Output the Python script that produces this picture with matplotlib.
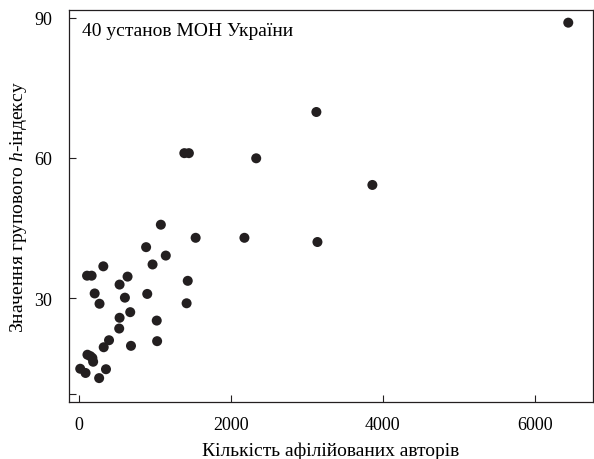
import matplotlib.pyplot as plt

# кількість афілійованих авторів та груповий h-індекс (40 установ)
authors = [6440, 3125, 1387, 1447, 2333, 3862, 1078, 1536, 2178, 3139,
           884, 1143, 969, 321, 107, 167, 640, 1432, 535, 207,
           899, 605, 271, 1417, 675, 535, 1024, 530, 396, 326,
           685, 1029, 112, 177, 187, 17, 87, 356, 266, 150]
h_index = [88.9, 69.8, 61.0, 61.0, 59.9, 54.2, 45.7, 42.9, 42.9, 42.0,
           40.9, 39.1, 37.2, 36.8, 34.8, 34.8, 34.6, 33.7, 32.9, 31.0,
           30.9, 30.1, 28.8, 28.9, 27.0, 25.8, 25.2, 23.5, 21.0, 19.5,
           19.8, 20.8, 17.9, 17.2, 16.4, 14.9, 14.0, 14.8, 12.9, 17.6]
yticks = [30, 60, 90]
xticks = [0, 2000, 4000, 6000]

plt.rcParams['font.family'] = 'Liberation Serif'
plt.rcParams['mathtext.fontset'] = 'custom'
plt.rcParams['mathtext.it'] = 'Liberation Serif:italic'
plt.rcParams['mathtext.rm'] = 'Liberation Serif'

fig = plt.figure(figsize=(5.94, 4.6), dpi=100)
ax = fig.add_axes([0.116, 0.124, 0.882, 0.852])

ax.scatter(authors, h_index, s=52, color='#231f20', edgecolors='none', zorder=3)

ax.set_xlim(-132, 6763)
ax.set_ylim(7.8, 91.6)
ax.set_xticks(xticks)
ax.set_yticks([9.4] + yticks)
ax.set_yticklabels([''] + [str(v) for v in yticks])
ax.tick_params(direction='in', length=5, width=0.8, labelsize=13, color='#231f20')
ax.tick_params(axis='x', pad=10)
ax.tick_params(axis='y', pad=12)
for sp in ax.spines.values():
    sp.set_linewidth(0.9)
    sp.set_color('#231f20')

ax.set_xlabel('Кількість афілійованих авторів', fontsize=14, labelpad=6)
ax.set_ylabel('Значення групового $h$-індексу', fontsize=14, labelpad=4)
ax.text(0.025, 0.97, '40 установ МОН України', transform=ax.transAxes,
        fontsize=14, va='top', ha='left')

fig.savefig('out.png')
